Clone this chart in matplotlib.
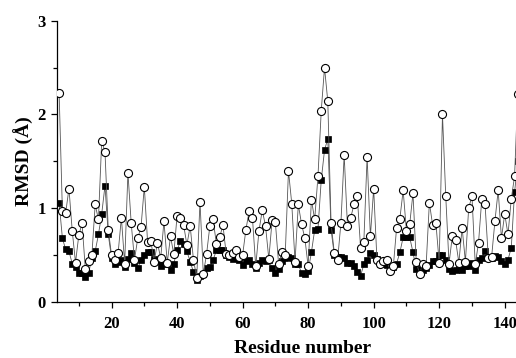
import matplotlib
matplotlib.use("Agg")
import matplotlib.pyplot as plt
from matplotlib.ticker import MultipleLocator

# residue numbers 4..144
residues = list(range(4, 145))

# open circles
rmsd_open = [2.23, 0.97, 0.95, 1.21, 0.76, 0.42, 0.71, 0.84, 0.35, 0.44,
             0.50, 1.04, 0.88, 1.72, 1.60, 0.77, 0.50, 0.45, 0.52, 0.90,
             0.41, 1.38, 0.84, 0.45, 0.68, 0.80, 1.23, 0.64, 0.65, 0.43,
             0.63, 0.47, 0.86, 0.42, 0.70, 0.51, 0.92, 0.90, 0.82, 0.61,
             0.81, 0.45, 0.26, 1.07, 0.30, 0.51, 0.81, 0.88, 0.62, 0.69,
             0.82, 0.51, 0.50, 0.52, 0.55, 0.48, 0.50, 0.77, 0.97, 0.90,
             0.38, 0.76, 0.98, 0.81, 0.46, 0.87, 0.85, 0.40, 0.53, 0.50,
             1.40, 1.05, 0.43, 1.04, 0.83, 0.68, 0.38, 1.09, 0.88, 1.34,
             2.04, 2.50, 2.14, 0.84, 0.52, 0.45, 0.84, 1.57, 0.81, 0.90,
             1.04, 1.13, 0.58, 0.64, 1.55, 0.70, 1.21, 0.45, 0.41, 0.44,
             0.45, 0.33, 0.38, 0.79, 0.89, 1.19, 0.76, 0.83, 1.16, 0.43,
             0.30, 0.41, 0.38, 1.06, 0.82, 0.84, 0.42, 2.00, 1.13, 0.41,
             0.70, 0.66, 0.42, 0.79, 0.43, 1.00, 1.13, 0.40, 0.63, 1.10,
             1.04, 0.47, 0.48, 0.86, 1.19, 0.68, 0.94, 0.72, 1.10, 1.34,
             2.22]

# filled squares
rmsd_filled = [1.06, 0.68, 0.56, 0.54, 0.41, 0.37, 0.31, 0.31, 0.27, 0.31,
               0.47, 0.54, 0.72, 0.94, 1.24, 0.72, 0.47, 0.40, 0.43, 0.45,
               0.37, 0.46, 0.52, 0.42, 0.36, 0.45, 0.50, 0.53, 0.53, 0.46,
               0.44, 0.38, 0.42, 0.40, 0.34, 0.41, 0.55, 0.65, 0.62, 0.54,
               0.43, 0.32, 0.24, 0.28, 0.30, 0.36, 0.37, 0.45, 0.55, 0.55,
               0.55, 0.50, 0.48, 0.46, 0.47, 0.45, 0.39, 0.44, 0.45, 0.41,
               0.36, 0.42, 0.45, 0.44, 0.45, 0.36, 0.31, 0.35, 0.44, 0.47,
               0.48, 0.47, 0.41, 0.40, 0.31, 0.30, 0.33, 0.53, 0.77, 0.78,
               1.30, 1.62, 1.74, 0.77, 0.50, 0.48, 0.48, 0.47, 0.42, 0.42,
               0.38, 0.32, 0.28, 0.40, 0.45, 0.52, 0.50, 0.46, 0.41, 0.41,
               0.39, 0.34, 0.37, 0.41, 0.53, 0.69, 0.69, 0.69, 0.53, 0.35,
               0.34, 0.34, 0.36, 0.39, 0.44, 0.44, 0.50, 0.50, 0.45, 0.35,
               0.33, 0.34, 0.38, 0.34, 0.38, 0.38, 0.42, 0.34, 0.45, 0.47,
               0.54, 0.47, 0.47, 0.49, 0.48, 0.44, 0.41, 0.45, 0.58, 1.17,
               1.50]

plt.rcParams['font.family'] = ['Liberation Serif', 'DejaVu Serif']
plt.rcParams['font.weight'] = 'bold'

fig = plt.figure(figsize=(5.16, 3.58), dpi=100)
# the original figure is cut off on the right, so the axes run past the edge
ax = fig.add_axes([0.1095, 0.1564, 0.955, 0.7858])

ax.plot(residues, rmsd_filled, color='#555555', lw=0.6, marker='s', ms=5,
        mfc='black', mec='black', mew=0.5, zorder=2)
ax.plot(residues, rmsd_open, color='#555555', lw=0.6, marker='o', ms=5.8,
        mfc='white', mec='black', mew=0.8, zorder=3)

ax.set_xlim(3.2, 153.6)
ax.set_ylim(0, 3)
ax.spines['top'].set_visible(False)
ax.spines['right'].set_visible(False)
ax.spines['left'].set_linewidth(0.9)
ax.spines['bottom'].set_linewidth(0.9)

ax.xaxis.set_major_locator(MultipleLocator(20))
ax.xaxis.set_minor_locator(MultipleLocator(10))
ax.yaxis.set_major_locator(MultipleLocator(1))
ax.yaxis.set_minor_locator(MultipleLocator(0.5))
ax.tick_params(which='major', direction='out', length=4, width=0.9, labelsize=12)
ax.tick_params(which='minor', direction='out', length=3, width=0.9)
ax.tick_params(axis='x', pad=6)

ax.set_xlabel('Residue number', fontsize=14, fontweight='bold', labelpad=6)
ax.set_ylabel('RMSD (Å)', fontsize=14, fontweight='bold', labelpad=3)

fig.savefig('out.png', dpi=100)
